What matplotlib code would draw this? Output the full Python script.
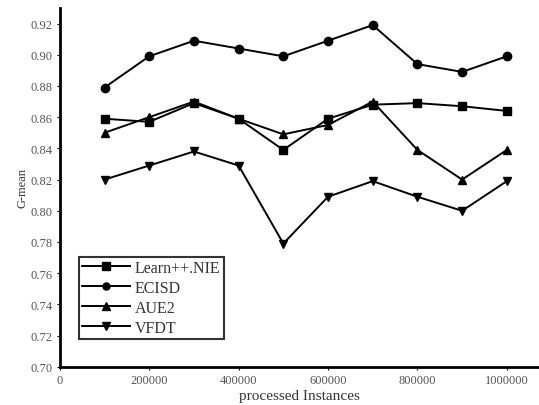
import matplotlib
matplotlib.use("Agg")
import matplotlib.pyplot as plt

x = [100000, 200000, 300000, 400000, 500000, 600000, 700000, 800000, 900000, 1000000]
learn_nie = [0.859, 0.857, 0.869, 0.859, 0.839, 0.859, 0.868, 0.869, 0.867, 0.864]
ecisd = [0.879, 0.899, 0.909, 0.904, 0.899, 0.909, 0.919, 0.894, 0.889, 0.899]
aue2 = [0.850, 0.860, 0.870, 0.859, 0.849, 0.855, 0.870, 0.839, 0.820, 0.839]
vfdt = [0.820, 0.829, 0.838, 0.829, 0.779, 0.809, 0.819, 0.809, 0.800, 0.819]

labels = ["Learn++.NIE", "ECISD", "AUE2", "VFDT"]
series = [learn_nie, ecisd, aue2, vfdt]
markers = ["s", "o", "^", "v"]

xticks = [0, 200000, 400000, 600000, 800000, 1000000]
yticks = [0.70, 0.72, 0.74, 0.76, 0.78, 0.80, 0.82, 0.84, 0.86, 0.88, 0.90, 0.92]

plt.rcParams['font.family'] = ['Liberation Serif', 'DejaVu Serif']
fig = plt.figure(figsize=(5.39, 4.06), dpi=100)
ax = fig.add_axes([0.111, 0.094, 0.889, 0.884])

for lab, s, m in zip(labels, series, markers):
    ax.plot(x, s, color='black', marker=m, markersize=6, linewidth=1.4, label=lab)

ax.set_xlim(0, 1072000)
ax.set_ylim(0.70, 0.93)
ax.set_xticks(xticks)
ax.set_xticklabels([str(v) for v in xticks])
ax.set_yticks(yticks)
ax.set_yticklabels([f"{v:.2f}" for v in yticks])
ax.tick_params(axis='both', colors='#555555', labelsize=9, length=2, width=0.8)
ax.tick_params(axis='both', color='black')
for sp in ['top', 'right']:
    ax.spines[sp].set_visible(False)
for sp in ['left', 'bottom']:
    ax.spines[sp].set_linewidth(2.0)
    ax.spines[sp].set_color('black')

ax.set_xlabel("processed Instances", fontsize=11, color='#333333', labelpad=2)
ax.set_ylabel("G-mean", fontsize=9, color='#333333', labelpad=1)

leg = ax.legend(loc='lower left', bbox_to_anchor=(0.04, 0.077), frameon=True,
                fancybox=False, edgecolor='black', fontsize=11.5, handlelength=3.0,
                borderpad=0.2, labelspacing=0.25, handletextpad=0.3, borderaxespad=0,
                markerscale=0.85)
leg.get_frame().set_linewidth(1.5)
for t in leg.get_texts():
    t.set_color('#333333')

fig.savefig("out.png", dpi=100)
